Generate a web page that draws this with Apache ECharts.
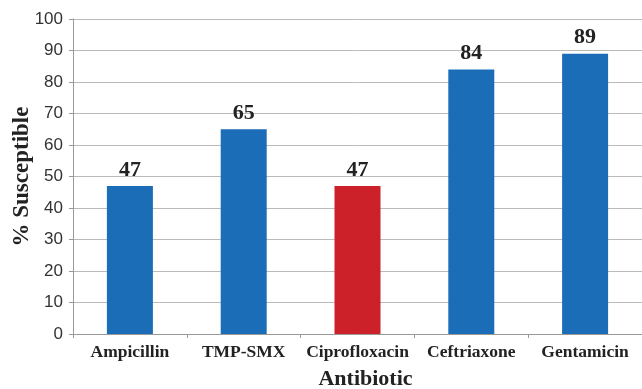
<!DOCTYPE html>
<html>
<head>
<meta charset="utf-8">
<script src="https://cdn.jsdelivr.net/npm/echarts@6/dist/echarts.min.js"></script>
<style>
  html, body { margin: 0; padding: 0; background: #fff; }
  #chart { width: 642px; height: 389px; }
</style>
</head>
<body>
<div id="chart"></div>
<script>
// Antibiotic susceptibility, percent of isolates
const categories = ['Ampicillin', 'TMP-SMX', 'Ciprofloxacin', 'Ceftriaxone', 'Gentamicin'];
const susceptible = [47, 65, 47, 84, 89];
const barColors = ['#1b6db7', '#1b6db7', '#cc2128', '#1b6db7', '#1b6db7'];

const serif = '"Liberation Serif", "Times New Roman", serif';
const sans = '"Liberation Sans", Arial, sans-serif';

const chart = echarts.init(document.getElementById('chart'), null, { renderer: 'canvas' });
chart.setOption({
  animation: false,
  grid: { left: 73, right: 0, top: 19, bottom: 55, containLabel: false, outerBoundsMode: 'none' },
  xAxis: {
    type: 'category',
    data: categories,
    name: 'Antibiotic',
    nameLocation: 'middle',
    nameGap: 34,
    nameMoveOverlap: false,
    nameTextStyle: { fontFamily: serif, fontWeight: 'bold', fontSize: 22, color: '#222', padding: [0, 0, 0, 16] },
    axisLine: { lineStyle: { color: '#999', width: 1 } },
    axisTick: { show: true, length: 4, lineStyle: { color: '#999' } },
    axisLabel: { fontFamily: serif, fontWeight: 'bold', fontSize: 17.5, color: '#222', margin: 9, interval: 0 }
  },
  yAxis: {
    type: 'value',
    min: 0, max: 100, interval: 10,
    name: '% Susceptible',
    nameLocation: 'middle',
    nameGap: 39,
    nameMoveOverlap: false,
    nameTextStyle: { fontFamily: serif, fontWeight: 'bold', fontSize: 23, color: '#222' },
    axisLine: { show: true, lineStyle: { color: '#999', width: 1 } },
    axisTick: { show: true, length: 4, lineStyle: { color: '#999' } },
    axisLabel: { fontFamily: sans, fontSize: 17, color: '#333', margin: 10 },
    splitLine: { lineStyle: { color: '#bbb', width: 1 } }
  },
  series: [{
    type: 'bar',
    data: susceptible.map((v, i) => ({ value: v, itemStyle: { color: barColors[i] } })),
    barWidth: 46,
    label: {
      show: true,
      position: 'top',
      distance: 5,
      fontFamily: serif,
      fontWeight: 'bold',
      fontSize: 22,
      color: '#222'
    }
  }]
});
</script>
</body>
</html>
